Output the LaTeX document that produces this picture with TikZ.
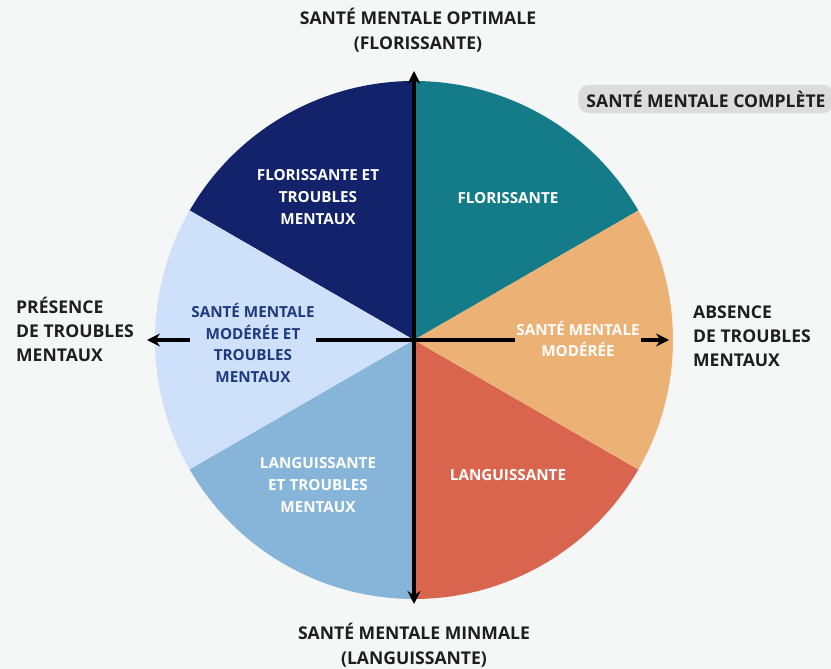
\documentclass[tikz,border=0pt]{standalone}
\usepackage{fontspec}
\setmainfont{Open Sans}
\usetikzlibrary{positioning, arrows.meta, calc}

\definecolor{fondo}{HTML}{F5F6F6}
\definecolor{texto}{HTML}{1E1E1E}
\definecolor{marino}{HTML}{12226B}
\definecolor{turquesa}{HTML}{147C88}
\definecolor{naranja}{HTML}{ECB175}
\definecolor{rojizo}{HTML}{D9654F}
\definecolor{celeste}{HTML}{86B5D9}
\definecolor{palido}{HTML}{CFE1FA}
\definecolor{azultexto}{HTML}{1F3A7D}
\definecolor{pastilla}{HTML}{DCDCDC}

\begin{document}
\begin{tikzpicture}[
	x=0.03cm, y=0.03cm,
	% --- ESTILOS ---
	eje/.style={
		draw, {Stealth[length=11pt,width=11pt]}-{Stealth[length=11pt,width=11pt]}, line width=3pt, color=black
	},
	titulo/.style={
		font=\bfseries\fontsize{15}{21}\selectfont, text=texto, align=center
	},
	lateral/.style={
		font=\bfseries\fontsize{15}{20.5}\selectfont, text=texto, align=left, anchor=west
	},
	etiqueta/.style={
		font=\bfseries\fontsize{13}{18.5}\selectfont, text=white, align=center
	}
	]
	
	% --- 0. Fondo y marco ---
	\fill [fondo] (0,0) rectangle (831,669);
	\useasboundingbox (0,0) rectangle (831,669);
	
	% --- 1. El circulo en seis sectores ---
	\coordinate (centro) at (414,329);
	\def\radio{259}
	\fill [turquesa] (centro) -- ++(30:\radio) arc[start angle=30, end angle=90, radius=\radio] -- cycle;
	\fill [marino] (centro) -- ++(90:\radio) arc[start angle=90, end angle=150, radius=\radio] -- cycle;
	\fill [palido] (centro) -- ++(150:\radio) arc[start angle=150, end angle=210, radius=\radio] -- cycle;
	\fill [celeste] (centro) -- ++(210:\radio) arc[start angle=210, end angle=270, radius=\radio] -- cycle;
	\fill [rojizo] (centro) -- ++(270:\radio) arc[start angle=270, end angle=330, radius=\radio] -- cycle;
	\fill [naranja] (centro) -- ++(-30:\radio) arc[start angle=-30, end angle=30, radius=\radio] -- cycle;
	
	% --- 2. Los ejes ---
	\coordinate (arriba) at (414,598);
	\coordinate (abajo) at (414,65);
	\coordinate (izq) at (147,329);
	\coordinate (der) at (669,329);
	\draw [eje] (abajo) -- (arriba);
	\draw [eje] (izq) -- (der);
	
	% --- 3. Etiquetas de los sectores ---
	\node [etiqueta] (flor_trast) at (318,472) {FLORISSANTE ET\\TROUBLES\\MENTAUX};
	\node [etiqueta] (flor) at (508,471) {FLORISSANTE};
	\node [etiqueta, text=azultexto, fill=palido, inner sep=1pt] (mod_trast) at (253,326) {SANTÉ MENTALE\\MODÉRÉE ET\\TROUBLES\\MENTAUX};
	\node [etiqueta, fill=naranja, inner sep=1pt] (mod) at (578,330) {SANTÉ MENTALE\\MODÉRÉE};
	\node [etiqueta] (lang_trast) at (318,184) {LANGUISSANTE\\ET TROUBLES\\MENTAUX};
	\node [etiqueta] (lang) at (508,194) {LANGUISSANTE};
	
	% --- 4. Titulos de los extremos ---
	\node [titulo] (optimale) at (418,639) {SANTÉ MENTALE OPTIMALE\\(FLORISSANTE)};
	\node [titulo] (minmale) at (414,24) {SANTÉ MENTALE MINMALE\\(LANGUISSANTE)};
	\node [lateral] (presence) at (12,340) {PRÉSENCE\\DE TROUBLES\\MENTAUX};
	\node [lateral] (absence) at (689,333) {ABSENCE\\DE TROUBLES\\MENTAUX};
	
	% --- 5. Etiqueta redondeada ---
	\node [titulo, fill=pastilla, rounded corners=9pt, inner xsep=7pt, inner ysep=5pt] (completa) at (706,570) {SANTÉ MENTALE COMPLÈTE};
	
\end{tikzpicture}
\end{document}
